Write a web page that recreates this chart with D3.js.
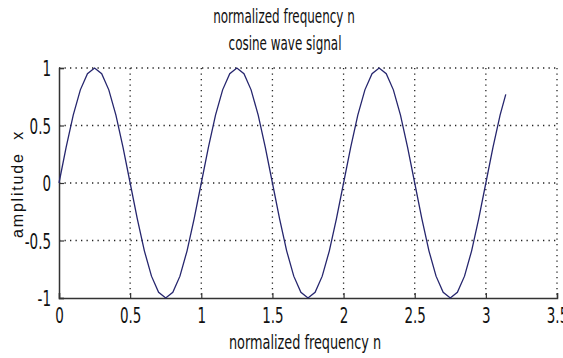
<!DOCTYPE html>
<html lang="en">
<head>
    <meta charset="UTF-8">
    <title>cosine wave signal</title>
    <script src="https://cdnjs.cloudflare.com/ajax/libs/d3/7.8.5/d3.min.js"></script>
    <style>
        body { margin: 0; background: #fff; }
        text { font-family: "DejaVu Sans Condensed", "Liberation Sans Narrow", sans-serif; fill: #111; }
    </style>
</head>
<body>
    <div id="draw-here"></div>
    <script>
        // Sample positions (normalized frequency n)
        var nValues = [0, 0.05, 0.1, 0.15, 0.2, 0.25, 0.3, 0.35, 0.4, 0.45,
            0.5, 0.55, 0.6, 0.65, 0.7, 0.75, 0.8, 0.85, 0.9, 0.95,
            1, 1.05, 1.1, 1.15, 1.2, 1.25, 1.3, 1.35, 1.4, 1.45,
            1.5, 1.55, 1.6, 1.65, 1.7, 1.75, 1.8, 1.85, 1.9, 1.95,
            2, 2.05, 2.1, 2.15, 2.2, 2.25, 2.3, 2.35, 2.4, 2.45,
            2.5, 2.55, 2.6, 2.65, 2.7, 2.75, 2.8, 2.85, 2.9, 2.95,
            3, 3.05, 3.1, 3.14];
        // Amplitude
        var ampValues = [0, 0.31, 0.59, 0.81, 0.95, 1, 0.95, 0.81, 0.59, 0.31,
            0, -0.31, -0.59, -0.81, -0.95, -1, -0.95, -0.81, -0.59, -0.31,
            0, 0.31, 0.59, 0.81, 0.95, 1, 0.95, 0.81, 0.59, 0.31,
            0, -0.31, -0.59, -0.81, -0.95, -1, -0.95, -0.81, -0.59, -0.31,
            0, 0.31, 0.59, 0.81, 0.95, 1, 0.95, 0.81, 0.59, 0.31,
            0, -0.31, -0.59, -0.81, -0.95, -1, -0.95, -0.81, -0.59, -0.31,
            0, 0.31, 0.59, 0.77];
        var xTicks = [0, 0.5, 1, 1.5, 2, 2.5, 3, 3.5];
        var yTicks = [-1, -0.5, 0, 0.5, 1];

        var w = 563, h = 358;
        var plotLeft = 59, plotRight = 557, plotTop = 68, plotBottom = 298;
        var tall = 1.4; // the reference font is tall and narrow

        var svg = d3.select("#draw-here").append("svg")
            .attr("width", w).attr("height", h);

        var x = d3.scaleLinear().domain([0, 3.5]).range([plotLeft, plotRight]);
        var y = d3.scaleLinear().domain([-1, 1]).range([plotBottom, plotTop]);

        // dotted grid
        svg.append("g").selectAll("line")
            .data(xTicks.filter(function(d) { return d > 0; }))
            .enter().append("line")
            .attr("x1", function(d) { return x(d); }).attr("x2", function(d) { return x(d); })
            .attr("y1", plotTop).attr("y2", plotBottom)
            .attr("stroke", "#222").attr("stroke-width", 1.3)
            .attr("stroke-dasharray", "1.3,4.2");
        svg.append("g").selectAll("line")
            .data(yTicks.filter(function(d) { return d > -1; }))
            .enter().append("line")
            .attr("y1", function(d) { return y(d); }).attr("y2", function(d) { return y(d); })
            .attr("x1", plotLeft).attr("x2", plotRight)
            .attr("stroke", "#222").attr("stroke-width", 1.3)
            .attr("stroke-dasharray", "1.3,4.2");

        // axes (plain hyphen for negatives, like the reference)
        var fmt = function(d) { return String(d); };
        var xAxis = svg.append("g")
            .attr("transform", "translate(0," + plotBottom + ")")
            .call(d3.axisBottom(x).tickValues(xTicks).tickSize(-5).tickFormat(fmt));
        var yAxis = svg.append("g")
            .attr("transform", "translate(" + plotLeft + ",0)")
            .call(d3.axisLeft(y).tickValues(yTicks).tickSize(-5).tickFormat(fmt));
        [xAxis, yAxis].forEach(function(a) {
            a.select(".domain").attr("stroke", "#333").attr("stroke-width", 1.5);
            a.selectAll(".tick line").attr("stroke", "#333").attr("stroke-width", 1.2);
            a.selectAll(".tick text").attr("font-size", "15px").attr("fill", "#111")
                .attr("x", 0).attr("y", 0).attr("dy", null);
        });
        xAxis.selectAll(".tick text")
            .attr("transform", "translate(0,25) scale(1," + tall + ")");
        yAxis.selectAll(".tick text")
            .attr("transform", "translate(-8,7.5) scale(1," + tall + ")");

        // signal
        var points = nValues.map(function(n, i) { return [n, ampValues[i]]; });
        var line = d3.line()
            .x(function(d) { return x(d[0]); })
            .y(function(d) { return y(d[1]); });
        svg.append("path")
            .datum(points)
            .attr("d", line)
            .attr("fill", "none")
            .attr("stroke", "#26266e")
            .attr("stroke-width", 1.3);

        // titles
        function tallText(tx, ty, size, str) {
            svg.append("text")
                .attr("transform", "translate(" + tx + "," + ty + ") scale(1," + tall + ")")
                .attr("text-anchor", "middle")
                .attr("font-size", size + "px")
                .text(str);
        }
        tallText(284, 23, 13.3, "normalized frequency n");
        tallText(285, 50, 13.3, "cosine wave signal");
        tallText(305, 349, 14.3, "normalized frequency n");

        svg.append("text")
            .attr("transform", "translate(23,184) rotate(-90)")
            .attr("text-anchor", "middle")
            .style("font-family", "'Liberation Sans', Arial, sans-serif")
            .attr("font-size", "16px")
            .attr("letter-spacing", "1.8px")
            .attr("xml:space", "preserve")
            .text("amplitude  x");
    </script>
</body>
</html>
